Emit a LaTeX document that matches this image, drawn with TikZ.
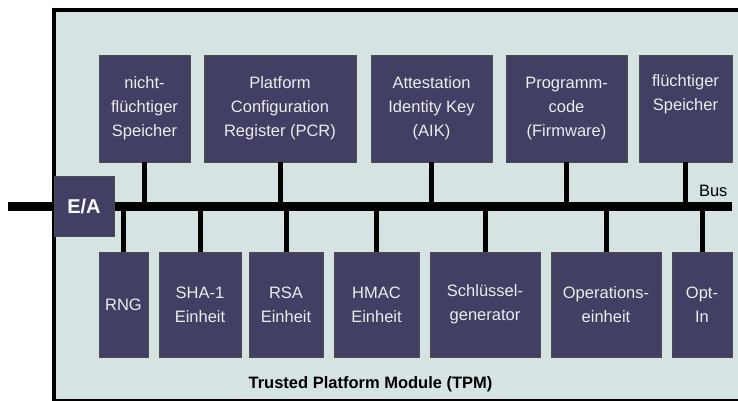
\documentclass[tikz,border=0pt]{standalone}
\usepackage{fontspec}
\setmainfont{Liberation Sans}
\usetikzlibrary{positioning}
\tikzset{>=latex}
\definecolor{tpmback}{HTML}{D6E3E3}
\definecolor{unitfill}{HTML}{413F63}
\definecolor{unittext}{HTML}{ECECEC}

\begin{document}
\begin{tikzpicture}[x=1pt,y=-1pt,
	unit/.style={draw=black!70,line width=0.6pt,fill=unitfill,text=unittext,align=center,inner sep=0pt,font=\fontsize{16.5}{24}\selectfont},
	wire/.style={line width=5pt},
	busline/.style={line width=9pt}]
	\useasboundingbox (0,0) rectangle (738,401);
	\fill[tpmback] (54,10) rectangle (738,400);
	\draw[line width=1.5pt] (54,400) -- (738,400);
	\draw[line width=4pt] (54,401) -- (54,10) -- (738,10);
	\coordinate (busL) at (8,206.5);
	\coordinate (busR) at (732,206.5);
	\draw[busline] (busL) -- (busR);
	\node[anchor=base east,font=\fontsize{16.5}{20}\selectfont] (buslabel) at (731,196) {Bus};

	\node[unit,minimum width=91pt,minimum height=107pt] (nvm) at (144.5,108.5) {nicht-\\flüchtiger\\Speicher};
	\node[unit,minimum width=152pt,minimum height=107pt] (pcr) at (280,108.5) {Platform\\Configuration\\Register (PCR)};
	\node[unit,minimum width=121pt,minimum height=107pt] (aik) at (431.5,108.5) {Attestation\\Identity Key\\(AIK)};
	\node[unit,minimum width=121pt,minimum height=107pt] (fw) at (566.5,108.5) {Programm-\\code\\(Firmware)};
	\node[unit,minimum width=93pt,minimum height=107pt] (ram) at (685.5,108.5) {flüchtiger\\Speicher\\\strut};

	\node[unit,minimum width=49pt,minimum height=105pt] (rng) at (123.5,304.5) {RNG};
	\node[unit,minimum width=82pt,minimum height=105pt] (sha) at (200,304.5) {SHA-1\\Einheit};
	\node[unit,minimum width=74pt,minimum height=105pt] (rsa) at (286,304.5) {RSA\\Einheit};
	\node[unit,minimum width=85pt,minimum height=105pt] (hmac) at (376.5,304.5) {HMAC\\Einheit};
	\node[unit,minimum width=110pt,minimum height=105pt] (keygen) at (485,304.5) {Schlüssel-\\generator};
	\node[unit,minimum width=110pt,minimum height=105pt] (ops) at (606,304.5) {Operations-\\einheit};
	\node[unit,minimum width=60pt,minimum height=105pt] (optin) at (702,304.5) {Opt-\\In};

	\foreach \u in {nvm,pcr,aik,fw,ram}
		\draw[wire] (\u.south) -- (\u.south |- busL);
	\foreach \u in {rng,sha,rsa,hmac,keygen,ops,optin}
		\draw[wire] (\u.north) -- (\u.north |- busL);

	\node[unit,text=white,minimum width=60pt,minimum height=60pt,font=\bfseries\fontsize{20}{24}\selectfont] (io) at (84,206) {E/A};
	\node[anchor=base,font=\bfseries\fontsize{16.5}{20}\selectfont] (tpm) at (370.5,388) {Trusted Platform Module (TPM)};
\end{tikzpicture}
\end{document}
